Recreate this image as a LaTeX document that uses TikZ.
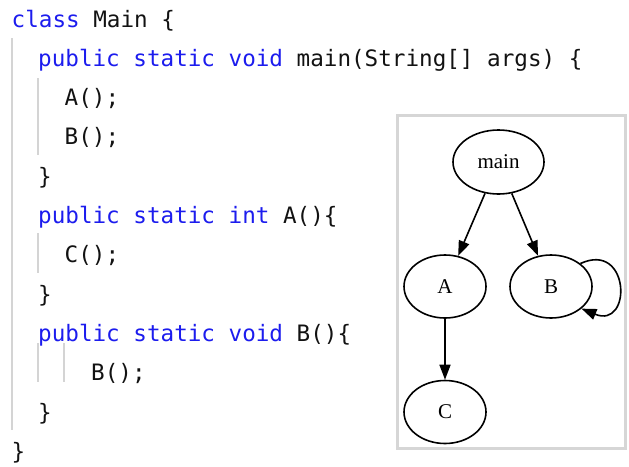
\documentclass[tikz,border=0pt]{standalone}
\usepackage{fontspec}
\usetikzlibrary{shapes.geometric,arrows.meta}
\newfontfamily\codefont{DejaVu Sans Mono}
\newfontfamily\graphfont{Liberation Serif}
\definecolor{kwblue}{RGB}{28,28,238}
\definecolor{codeink}{RGB}{18,18,18}
\definecolor{guide}{RGB}{212,212,212}
\definecolor{frame}{RGB}{214,214,214}
\newcommand{\kw}[1]{\textcolor{kwblue}{#1}}
\tikzset{
  codeline/.style={anchor=base west, inner sep=0pt, text=codeink,
    font=\codefont\fontsize{22.6}{26}\selectfont},
  indentguide/.style={draw=guide, line width=1.6pt},
  callnode/.style={ellipse, draw=black, line width=1.6pt, inner sep=0pt,
    minimum width=82pt, minimum height=63pt,
    font=\graphfont\fontsize{21}{24}\selectfont},
  callarrow/.style={draw=black, line width=1.6pt,
    -{Triangle[length=15pt,width=11pt]}}
}
\begin{document}
\begin{tikzpicture}[x=1pt,y=-1pt]
  \useasboundingbox (0,0) rectangle (629,466);
  \fill[white] (0,0) rectangle (629,466);

  % indentation guides of the editor
  \draw[indentguide] (12,38) -- (12,430);
  \draw[indentguide] (38,78) -- (38,155);
  \draw[indentguide] (38,233) -- (38,273);
  \draw[indentguide] (38,343) -- (38,382);
  \draw[indentguide] (64,343) -- (64,382);

  % source code, one node per line
  \node[codeline] (l1)  at (11.5,27)  {\kw{class} Main \{};
  \node[codeline] (l2)  at (38,66.3)  {\kw{public static void} main(String[] args) \{};
  \node[codeline] (l3)  at (64.5,105.6) {A();};
  \node[codeline] (l4)  at (64.5,144.9) {B();};
  \node[codeline] (l5)  at (38,184.2) {\}};
  \node[codeline] (l6)  at (38,223.5) {\kw{public static int} A()\{};
  \node[codeline] (l7)  at (64.5,262.8) {C();};
  \node[codeline] (l8)  at (38,302.1) {\}};
  \node[codeline] (l9)  at (38,341.4) {\kw{public static void} B()\{};
  \node[codeline] (l10) at (91,380.7) {B();};
  \node[codeline] (l11) at (38,420)   {\}};
  \node[codeline] (l12) at (11.5,459.3) {\}};

  % call graph panel
  \draw[frame, line width=3pt] (397,115) rectangle (625,448);

  \node[callnode, minimum width=91pt, minimum height=64pt] (main) at (498.5,162) {main};
  \node[callnode] (A) at (445,286.5) {A};
  \node[callnode] (B) at (551,286.5) {B};
  \node[callnode] (C) at (445,412) {C};

  \draw[callarrow] (main) -- (A);
  \draw[callarrow] (main) -- (B);
  \draw[callarrow] (A) -- (C);
  \draw[callarrow] (B.38) .. controls +(50,-23) and +(51,21) .. (B.-36);
\end{tikzpicture}
\end{document}
